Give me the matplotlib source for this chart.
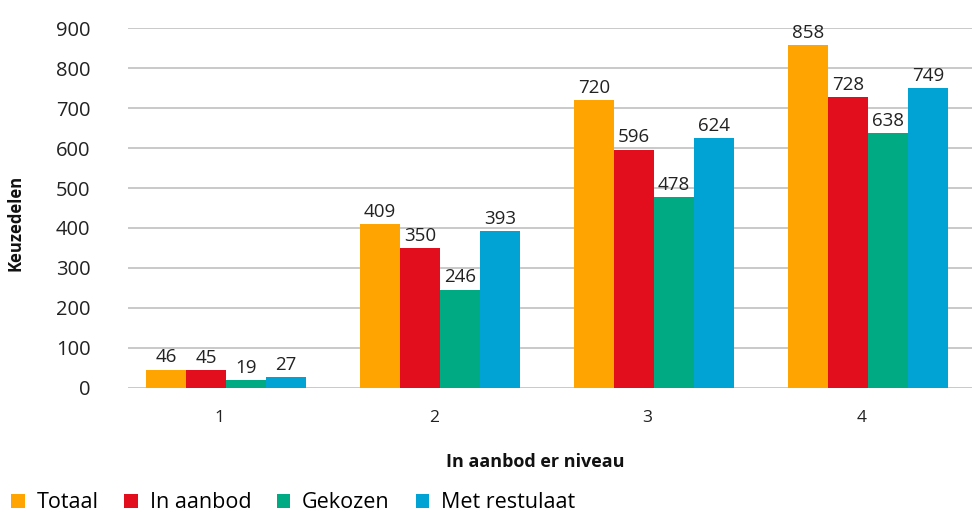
import matplotlib
matplotlib.use("Agg")
import matplotlib.pyplot as plt
import numpy as np

plt.rcParams['font.family'] = ['Open Sans', 'DejaVu Sans']

categories = ["1", "2", "3", "4"]
series_names = ["Totaal", "In aanbod", "Gekozen", "Met restulaat"]
totaal = [46, 409, 720, 858]
in_aanbod = [45, 350, 596, 728]
gekozen = [19, 246, 478, 638]
met_resultaat = [27, 393, 624, 749]
colors = ["#FFA400", "#E20E1E", "#00AB84", "#00A3D4"]
yticks = [0, 100, 200, 300, 400, 500, 600, 700, 800, 900]

fig = plt.figure(figsize=(9.73, 5.12), dpi=100)
ax = fig.add_axes([0.1316, 0.2422, 0.8674, 0.7031])

x = np.arange(len(categories))
w = 0.1875
all_series = [totaal, in_aanbod, gekozen, met_resultaat]
for i, (vals, name, c) in enumerate(zip(all_series, series_names, colors)):
    pos = x + (i - 1.5) * w
    bars = ax.bar(pos, vals, width=w, color=c, label=name, zorder=3)
    for b, v in zip(bars, vals):
        ax.text(b.get_x() + b.get_width() / 2, v + 8, str(v), ha='center', va='bottom',
                fontsize=13.5, color='#222222')

ax.set_xlim(-0.458, 3.486)
ax.set_ylim(0, 900)
ax.set_yticks(yticks)
ax.set_xticks(x - 0.03)
ax.set_xticklabels(categories)
ax.tick_params(axis='both', length=0, colors='#222222')
ax.tick_params(axis='x', pad=16, labelsize=12.5)
ax.tick_params(axis='y', pad=27, labelsize=14.5)
for lbl in ax.get_yticklabels():
    lbl.set_horizontalalignment('right')
ax.grid(axis='y', color='#C0C0C0', linewidth=1.2, zorder=0)
for s in ax.spines.values():
    s.set_visible(False)

fig.text(0.016, 0.565, "Keuzedelen", rotation=90, ha='center', va='center',
         fontsize=12, fontweight='bold', color='#111111')
fig.text(0.55, 0.098, "In aanbod er niveau", ha='center', va='center',
         fontsize=13, fontweight='bold', color='#111111')

fig.legend(loc='center left', bbox_to_anchor=(0.005, 0.018), ncol=4, frameon=False,
           fontsize=15.5, handlelength=0.62, handleheight=0.62, handletextpad=0.55,
           columnspacing=1.2, borderaxespad=0.0, borderpad=0.3)

fig.savefig("out.png", dpi=100)
